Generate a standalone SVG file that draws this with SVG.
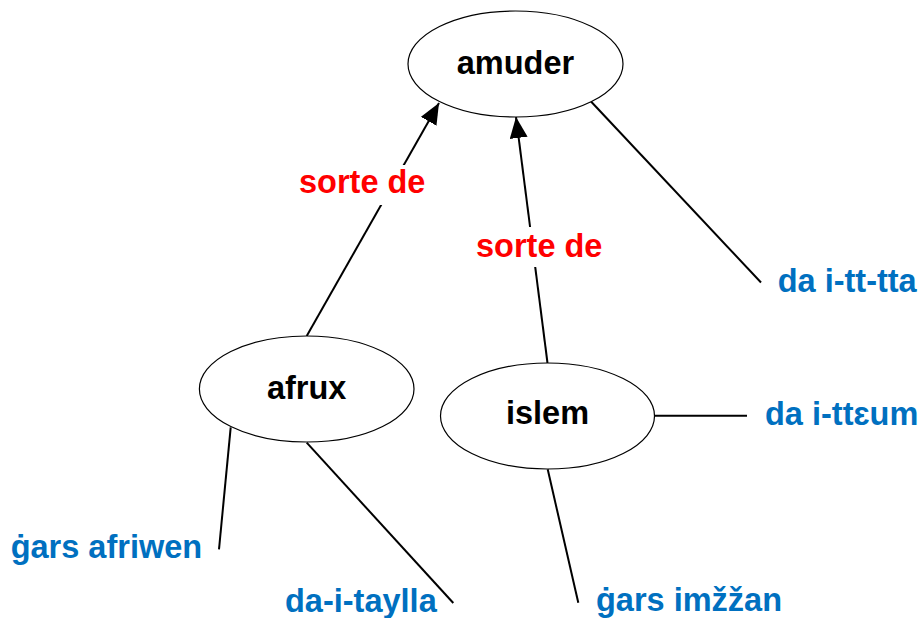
<svg xmlns="http://www.w3.org/2000/svg" width="922" height="618" viewBox="0 0 922 618">
  <style>
    .node ellipse { fill: #ffffff; stroke: #000000; stroke-width: 1.2; }
    .node text { font-family: "Liberation Sans", Arial, sans-serif; font-weight: bold; font-size: 32.5px; fill: #000000; text-anchor: middle; }
    .edge { stroke: #000000; stroke-width: 2; fill: none; }
    .rel { font-family: "Liberation Sans", Arial, sans-serif; font-weight: bold; font-size: 32.5px; fill: #ff0000; }
    .attr { font-family: "Liberation Sans", Arial, sans-serif; font-weight: bold; font-size: 32.5px; fill: #0070c0; }
    .bg { fill: #ffffff; stroke: none; }
  </style>
  <defs>
    <marker id="arrow" markerUnits="userSpaceOnUse" markerWidth="21" markerHeight="18" refX="21" refY="9" orient="auto">
      <path d="M0,0 L21,9 L0,18 z" fill="#000000"/>
    </marker>
  </defs>
  <rect width="922" height="618" fill="#ffffff"/>

  <g id="connectors">
    <line class="edge" x1="306.7" y1="336" x2="439" y2="103" marker-end="url(#arrow)"/>
    <line class="edge" x1="547.5" y1="363" x2="516" y2="117" marker-end="url(#arrow)"/>
    <line class="edge" x1="591" y1="101.5" x2="761" y2="282.5"/>
    <line class="edge" x1="654.5" y1="415.7" x2="747" y2="415.7"/>
    <line class="edge" x1="230.7" y1="427.3" x2="219" y2="549.3"/>
    <line class="edge" x1="306.7" y1="442.7" x2="453.3" y2="603"/>
    <line class="edge" x1="547.7" y1="469.3" x2="578.3" y2="602.7"/>
    <g id="edge-labels">
      <rect class="bg" x="296" y="165" width="132" height="40"/>
      <text class="rel" x="299" y="193.3">sorte de</text>
      <rect class="bg" x="473" y="227" width="132" height="40"/>
      <text class="rel" x="476" y="257.3">sorte de</text>
    </g>
  </g>

  <g id="amuder" class="node">
    <ellipse cx="515.5" cy="64" rx="107.5" ry="53"/>
    <text x="515.5" y="73.5">amuder</text>
  </g>
  <g id="afrux" class="node">
    <ellipse cx="306.7" cy="389" rx="107.3" ry="53"/>
    <text x="306.7" y="398.5">afrux</text>
  </g>
  <g id="islem" class="node">
    <ellipse cx="547.5" cy="416" rx="107" ry="53"/>
    <text x="547.5" y="424">islem</text>
  </g>

  <g id="attr-da-i-tt-tta"><text class="attr" x="777.7" y="291.7">da i-tt-tta</text></g>
  <g id="attr-da-i-tteum"><text class="attr" x="765" y="425">da i-ttɛum</text></g>
  <g id="attr-gars-afriwen"><text class="attr" x="10.7" y="558.3">ġars afriwen</text></g>
  <g id="attr-da-i-taylla"><text class="attr" x="285" y="611.7">da-i-taylla</text></g>
  <g id="attr-gars-imzzan"><text class="attr" x="596" y="611">ġars imžžan</text></g>
</svg>
